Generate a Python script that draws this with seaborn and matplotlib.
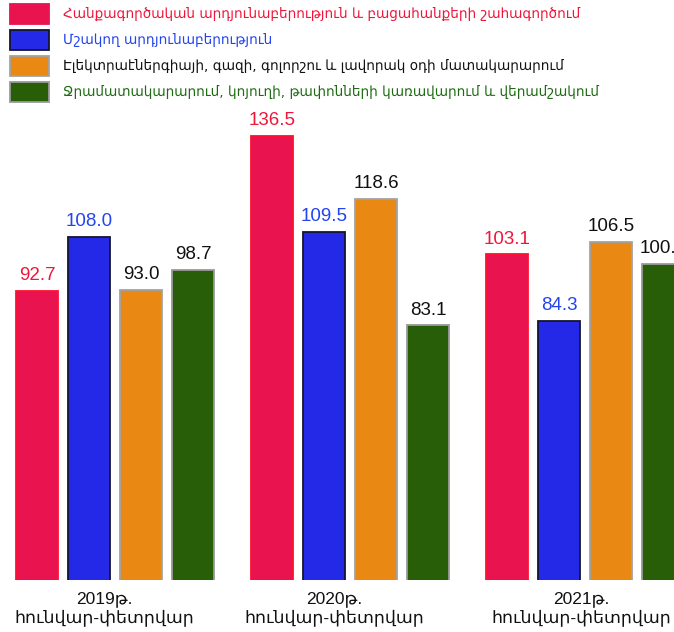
import numpy as np
import pandas as pd
import matplotlib
matplotlib.use("Agg")
import matplotlib.pyplot as plt
import matplotlib.patches as mpatches
import seaborn as sns

# data
groups = ["2019թ.\nհունվար-փետրվար", "2020թ.\nհունվար-փետրվար", "2021թ.\nհունվար-փետրվար"]
categories = [
    "Հանքագործական արդյունաբերություն և բացահանքերի շահագործում",
    "Մշակող արդյունաբերություն",
    "Էլեկտրաէներգիայի, գազի, գոլորշու և լավորակ օդի մատակարարում",
    "Ջրամատակարարում, կոյուղի, թափոնների կառավարում և վերամշակում",
]
mining = [92.7, 136.5, 103.1]
manufacturing = [108.0, 109.5, 84.3]
electricity = [93.0, 118.6, 106.5]
water = [98.7, 83.1, 100.4]

fill_colors = ["#E8134F", "#2329E6", "#E98914", "#285E08"]
edge_colors = ["#FF1030", "#15152E", "#A3A3A3", "#9A9A9A"]
text_colors = ["#F0163A", "#2444EE", "#111111", "#1F6B14"]
label_colors = ["#F0163A", "#2444EE", "#111111", "#111111"]

rows = []
for cat, vals in zip(categories, [mining, manufacturing, electricity, water]):
    for g, v in zip(groups, vals):
        rows.append({"group": g, "category": cat, "value": v})
df = pd.DataFrame(rows)

sns.set_theme(style="white")
plt.rcParams["font.family"] = ["DejaVu Sans"]

W, H = 674, 632
fig = plt.figure(figsize=(W / 100, H / 100), dpi=100)
base_px = 580
ax = fig.add_axes([0, (H - base_px) / H, 1, base_px / H])

sns.barplot(data=df, x="group", y="value", hue="category", order=groups,
            hue_order=categories, palette=fill_colors, width=0.885, gap=0.19,
            saturation=1, ax=ax, legend=False)

# per-series edges and value labels
for i, cont in enumerate(ax.containers):
    for p in cont.patches:
        p.set_edgecolor(edge_colors[i])
        p.set_linewidth(1.3)
    ax.bar_label(cont, fmt="%.1f", padding=5, fontsize=13.5, color=label_colors[i],
                 family=["Liberation Sans", "DejaVu Sans"])

# pixel mapping: group 0 centred at x=115, 235 px per group, 3.55 px per unit
ax.set_xlim(-115 / 235, (W - 115) / 235)
y0 = 11.4
ax.set_ylim(y0, y0 + base_px / 3.55)

sns.despine(ax=ax, left=True, bottom=True)
ax.set_yticks([])
ax.set_xlabel("")
ax.set_ylabel("")
# group captions sit a little off the group centres in the original
label_shift = [-11 / 235, -16 / 235, -4 / 235]
ax.set_xticks([i + s for i, s in enumerate(label_shift)], labels=groups)
ax.tick_params(axis="x", length=0, pad=8)
for t in ax.get_xticklabels():
    t.set_fontsize(12.5)
    t.set_linespacing(1.15)
    t.set_family(["Liberation Sans", "DejaVu Sans"])
    t.set_color("#111111")

handles = [mpatches.Patch(facecolor=f, edgecolor=e if i else f, linewidth=1.3)
           for i, (f, e) in enumerate(zip(fill_colors, edge_colors))]
leg = fig.legend(handles, categories, loc="upper left",
                 bbox_to_anchor=(10 / W, 1 - 4 / H), frameon=False,
                 fontsize=9.8, borderpad=0, borderaxespad=0,
                 handlelength=2.9, handleheight=1.88, labelspacing=0.44,
                 handletextpad=1.0, labelcolor=text_colors)

fig.savefig("out.png", dpi=100, facecolor="white")
